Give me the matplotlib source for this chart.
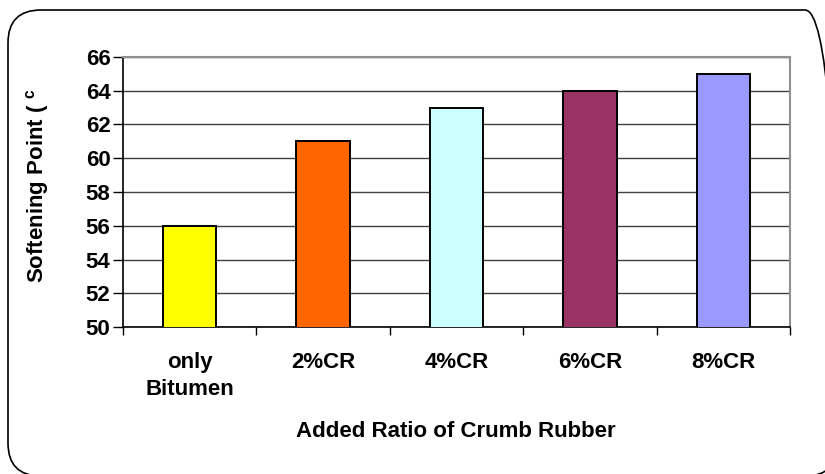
import matplotlib
matplotlib.use('Agg')
import matplotlib.pyplot as plt
from matplotlib.patches import FancyBboxPatch
import numpy as np

plt.rcParams['font.family'] = ['Liberation Sans', 'DejaVu Sans']
plt.rcParams['font.weight'] = 'bold'

# 数据
categories = ['only\nBitumen', '2%CR', '4%CR', '6%CR', '8%CR']
softening_point = [56, 61, 63, 64, 65]
bar_colors = ['#FFFF00', '#FF6600', '#CCFFFF', '#993366', '#9999FF']
y_ticks = [50, 52, 54, 56, 58, 60, 62, 64, 66]

fig = plt.figure(figsize=(8.25, 4.74), dpi=100)

# 圆角外框：用一个铺满画布的辅助坐标系（单位为像素）来画
bg = fig.add_axes([0, 0, 1, 1], zorder=-1)
bg.set_xlim(0, 825)
bg.set_ylim(0, 474)
bg.axis('off')
bg.add_patch(FancyBboxPatch((8, -2), 830, 466, boxstyle='round,pad=0,rounding_size=33',
                            facecolor='none', edgecolor='black', linewidth=1.2,
                            clip_on=False))

ax = fig.add_axes([0.149, 0.310, 0.809, 0.570])

x = np.arange(len(categories))
ax.bar(x, softening_point, width=0.4, color=bar_colors, edgecolor='black',
       linewidth=1.4, zorder=3)

ax.set_xlim(-0.5, len(categories) - 0.5)
ax.set_ylim(50, 66)
ax.set_yticks(y_ticks)
ax.yaxis.grid(True, color='#404040', linewidth=1.0, zorder=0)

# 分类刻度在组间边界，标签在组中心
ax.set_xticks(x)
ax.set_xticks(np.arange(len(categories) + 1) - 0.5, minor=True)
ax.set_xticklabels(categories, fontsize=16, linespacing=1.35)
ax.tick_params(axis='x', which='major', length=0, pad=18)
ax.tick_params(axis='x', which='minor', length=6, width=1, direction='out')
ax.tick_params(axis='y', length=7, width=1, direction='out', labelsize=16, pad=2)
for lab in ax.get_yticklabels():
    lab.set_fontweight('bold')

for side in ['top', 'right']:
    ax.spines[side].set_color('#909090')
    ax.spines[side].set_linewidth(1.5)
for side in ['left', 'bottom']:
    ax.spines[side].set_color('black')
    ax.spines[side].set_linewidth(1.2)

fig.text(0.046, 0.608, 'Softening Point ( $^{\\mathregular{c}}$', rotation=90,
         ha='center', va='center', fontsize=16, fontweight='bold')
fig.text(0.552, 0.089, 'Added Ratio of Crumb Rubber', ha='center', va='center',
         fontsize=16, fontweight='bold')

fig.savefig('out.png', dpi=100)
